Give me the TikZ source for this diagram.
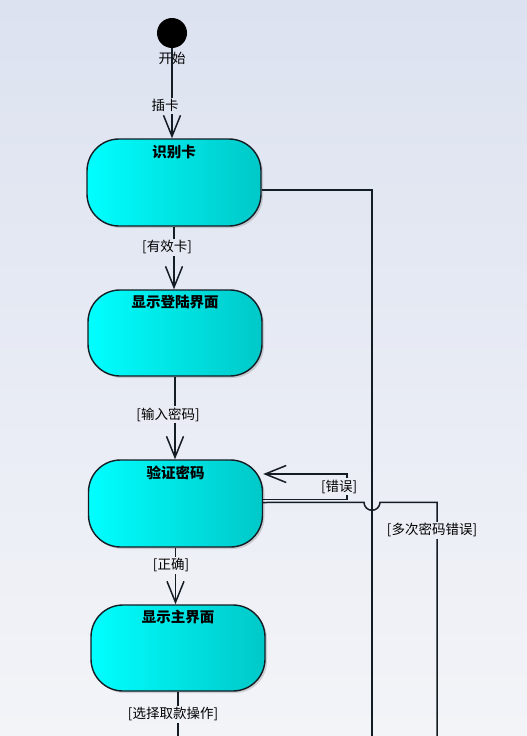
\documentclass[tikz,border=0pt]{standalone}
\usepackage{fontspec}
\usepackage{tikz}
\usetikzlibrary{positioning,calc,arrows.meta,shadows}
\newfontfamily\cjk{Noto Sans CJK SC}
\definecolor{bgtop}{RGB}{220,226,240}
\definecolor{bgbot}{RGB}{243,244,248}
\definecolor{stateL}{RGB}{0,255,255}
\definecolor{stateR}{RGB}{0,200,200}
\definecolor{edgeline}{RGB}{20,28,36}

\begin{document}
\begin{tikzpicture}[x=1pt,y=-1pt,
    actstate/.style={draw=edgeline, line width=1.4pt, rounded corners=32pt,
      minimum width=174pt, minimum height=#1, left color=stateL, right color=stateR,
      drop shadow={shadow xshift=2pt, shadow yshift=-2pt, opacity=0.25, fill=black!60}},
    actstate/.default=87pt,
    statetitle/.style={font=\cjk\bfseries\fontsize{14.5}{14.5}\selectfont, inner sep=0pt, anchor=north, yshift=-6pt},
    lbl/.style={font=\cjk\fontsize{13.5}{13.5}\selectfont, fill=bgbot!#1!bgtop, inner sep=1.5pt},
    flow/.style={line width=1.5pt, draw=edgeline},
    arr/.style={-{Straight Barb[length=21pt,width=17pt]}}]
    \useasboundingbox (0,0) rectangle (527,736);
    \fill[top color=bgtop, bottom color=bgbot] (0,0) rectangle (527,736);

    % states
    \node[circle, fill=black, inner sep=0pt, minimum size=30pt,
      label={[font=\cjk\fontsize{13.5}{13.5}\selectfont, inner sep=1.5pt, label distance=2pt]below:开始}] (start) at (172,33) {};
    \node[actstate, label={[statetitle, yshift=-1pt]north:识别卡}] (card) at (174,182.5) {};
    \node[actstate=86pt, label={[statetitle]north:显示登陆界面}] (login) at (175,333) {};
    \node[actstate, label={[statetitle]north:验证密码}] (verify) at (175.5,503.5) {};
    \node[actstate=86pt, label={[statetitle]north:显示主界面}] (mainui) at (178,648) {};

    % free ends at the bottom edge
    \coordinate (mainout) at (178,736);
    \coordinate (cardend) at (372,736);
    \coordinate (multiend) at (437,736);
    \coordinate (jump) at (372,502.3);

    \draw[flow]
    ([yshift=-7.5pt]card.east) -| (cardend);
    \draw[flow]
    ([yshift=1pt]verify.east) -- ([xshift=-8pt]jump)
      arc[start angle=180, end angle=360, radius=8pt]
      -| node[lbl=72, pos=0.56, xshift=-5pt] {[多次密码错误]} (multiend);
    \draw[flow] (mainui) -- node[lbl=97, pos=0.51, xshift=-5pt] {[选择取款操作]} (mainout);
    \draw[flow, arr]
    (start) -- node[lbl=14, pos=0.64, xshift=-7pt] {插卡} (start |- card.north);
    \draw[flow, arr]
    (card) -- node[lbl=34, pos=0.33, xshift=-7pt] {[有效卡]} (card |- login.north);
    \draw[flow, arr]
    (login) -- node[lbl=56, pos=0.46, xshift=-7pt] {[输入密码]} (login |- verify.north);
    \draw[flow, arr]
    (verify) -- node[lbl=77, pos=0.31, xshift=-4.5pt] {[正确]} (verify |- mainui.north);
    \draw[flow, arr]
    ([yshift=4pt]verify.east) -- ++(84pt,0)
      |- node[lbl=66, pos=0.25, xshift=-8pt] {[错误]} ([yshift=29.5pt]verify.east);
\end{tikzpicture}
\end{document}
